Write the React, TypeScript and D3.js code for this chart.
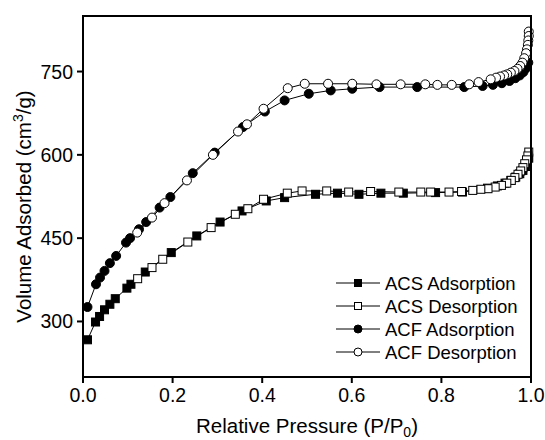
import React from 'react';
import * as d3 from 'd3';

// ACS adsorption (filled squares)
const acsAdsP = [0.01, 0.028, 0.037, 0.048, 0.06, 0.072, 0.098, 0.107, 0.139, 0.197, 0.254, 0.306, 0.355, 0.409, 0.45, 0.519, 0.568, 0.616, 0.665, 0.715, 0.787, 0.847, 0.903, 0.925, 0.942, 0.955, 0.966, 0.975, 0.982, 0.988, 0.992, 0.995];
const acsAdsV = [267, 299, 309, 321, 331, 341, 360, 367, 389, 424, 454, 479, 499, 517, 523, 529, 531, 529, 531, 531, 532, 533, 540, 544, 549, 554, 560, 566, 572, 579, 586, 594];

// ACS desorption (open squares)
const acsDesP = [0.995, 0.993, 0.99, 0.986, 0.982, 0.977, 0.971, 0.964, 0.956, 0.946, 0.934, 0.92, 0.904, 0.888, 0.87, 0.845, 0.817, 0.776, 0.754, 0.705, 0.642, 0.593, 0.544, 0.489, 0.456, 0.403, 0.368, 0.34, 0.286, 0.234, 0.178, 0.154, 0.122];
const acsDesV = [605, 598, 591, 584, 577, 571, 565, 559, 554, 549, 545, 542, 539, 538, 536, 534, 533, 533, 533, 533, 534, 533, 535, 535, 531, 520, 503, 493, 469, 443, 412, 397, 377];

// ACF adsorption (filled circles)
const acfAdsP = [0.01, 0.029, 0.038, 0.048, 0.06, 0.074, 0.096, 0.105, 0.125, 0.141, 0.171, 0.195, 0.245, 0.294, 0.357, 0.406, 0.45, 0.504, 0.553, 0.601, 0.662, 0.746, 0.851, 0.892, 0.915, 0.935, 0.952, 0.965, 0.975, 0.983, 0.989, 0.994];
const acfAdsV = [326, 367, 379, 391, 405, 418, 442, 450, 466, 479, 505, 524, 567, 604, 650, 678, 698, 710, 716, 719, 722, 722, 722, 724, 726, 729, 733, 738, 743, 749, 756, 766];

// ACF desorption (open circles)
const acfDesP = [0.995, 0.995, 0.994, 0.993, 0.991, 0.989, 0.985, 0.981, 0.976, 0.97, 0.963, 0.955, 0.947, 0.94, 0.931, 0.922, 0.91, 0.883, 0.862, 0.823, 0.791, 0.764, 0.709, 0.655, 0.601, 0.547, 0.495, 0.457, 0.403, 0.366, 0.346, 0.29, 0.232, 0.182, 0.154, 0.121];
const acfDesV = [822, 814, 806, 798, 790, 783, 774, 766, 760, 755, 751, 748, 745, 743, 741, 739, 736, 731, 727, 726, 726, 727, 727, 727, 728, 728, 728, 720, 683, 655, 642, 600, 554, 513, 487, 460];

const xTicks = [0, 0.2, 0.4, 0.6, 0.8, 1.0];
const yTicks = [300, 450, 600, 750];

const legendNames = ['ACS Adsorption', 'ACS Desorption', 'ACF Adsorption', 'ACF Desorption'];

const W = 545, H = 440;
const margin = { top: 16, right: 14, bottom: 63, left: 83 };
const font = '"Liberation Sans", Arial, sans-serif';

type Pt = { p: number; v: number };
const zip = (ps: number[], vs: number[]): Pt[] => ps.map((p, i) => ({ p, v: vs[i] }));

const series = [
  { name: legendNames[0], data: zip(acsAdsP, acsAdsV), shape: 'square', fill: '#000' },
  { name: legendNames[1], data: zip(acsDesP, acsDesV), shape: 'square', fill: '#fff' },
  { name: legendNames[2], data: zip(acfAdsP, acfAdsV), shape: 'circle', fill: '#000' },
  { name: legendNames[3], data: zip(acfDesP, acfDesV), shape: 'circle', fill: '#fff' },
];

const Marker = ({ x, y, shape, fill, size }: { x: number; y: number; shape: string; fill: string; size: number }) =>
  shape === 'square' ? (
    <rect x={x - size / 2} y={y - size / 2} width={size} height={size} fill={fill} stroke="#000" strokeWidth={1} />
  ) : (
    <circle cx={x} cy={y} r={size / 2} fill={fill} stroke="#000" strokeWidth={1} />
  );

export default function App() {
  const x = d3.scaleLinear().domain([0, 1]).range([margin.left, W - margin.right]);
  const y = d3.scaleLinear().domain([200, 850]).range([H - margin.bottom, margin.top]);
  const line = d3.line<Pt>().x(d => x(d.p)).y(d => y(d.v));
  const [x0, x1] = x.range();
  const [y0, y1] = y.range();

  return (
    <svg width={W} height={H} style={{ position: 'absolute', left: 0, top: 0, background: '#fff' }} fontFamily={font}>
      {/* series */}
      {series.map(s => (
        <g key={s.name}>
          <path d={line(s.data) || ''} fill="none" stroke="#000" strokeWidth={1} />
          {s.data.map((d, i) => (
            <Marker key={i} x={x(d.p)} y={y(d.v)} shape={s.shape} fill={s.fill} size={s.shape === 'square' ? 8 : 9} />
          ))}
        </g>
      ))}

      {/* frame */}
      <rect x={x0} y={y1} width={x1 - x0} height={y0 - y1} fill="none" stroke="#000" strokeWidth={2} />

      {/* x axis */}
      {xTicks.map(t => (
        <g key={t}>
          <line x1={x(t)} x2={x(t)} y1={y0} y2={y0 + 6} stroke="#000" strokeWidth={2} />
          <text x={x(t)} y={y0 + 25} textAnchor="middle" fontSize={19.5}>{d3.format('.1f')(t)}</text>
        </g>
      ))}
      <text x={(x0 + x1) / 2} y={433} textAnchor="middle" fontSize={20.5}>
        Relative Pressure (P/P<tspan fontSize={14} dy={4}>0</tspan><tspan dy={-4}>)</tspan>
      </text>

      {/* y axis */}
      {yTicks.map(t => (
        <g key={t}>
          <line x1={x0 - 6} x2={x0} y1={y(t)} y2={y(t)} stroke="#000" strokeWidth={2} />
          <text x={x0 - 10} y={y(t) + 7} textAnchor="end" fontSize={19.5}>{t}</text>
        </g>
      ))}
      <text transform={`translate(31,${(y0 + y1) / 2 + 10}) rotate(-90)`} textAnchor="middle" fontSize={20.5}>
        Volume Adsorbed (cm<tspan fontSize={14} dy={-8}>3</tspan><tspan dy={8}>/g)</tspan>
      </text>

      {/* legend */}
      {series.map((s, i) => {
        const ly = 283 + i * 23;
        return (
          <g key={s.name}>
            <line x1={336} x2={380} y1={ly} y2={ly} stroke="#000" strokeWidth={1} />
            <Marker x={358} y={ly} shape={s.shape} fill={s.fill} size={s.shape === 'square' ? 7 : 8} />
            <text x={385} y={ly + 6.5} fontSize={18.5}>{s.name}</text>
          </g>
        );
      })}
    </svg>
  );
}
